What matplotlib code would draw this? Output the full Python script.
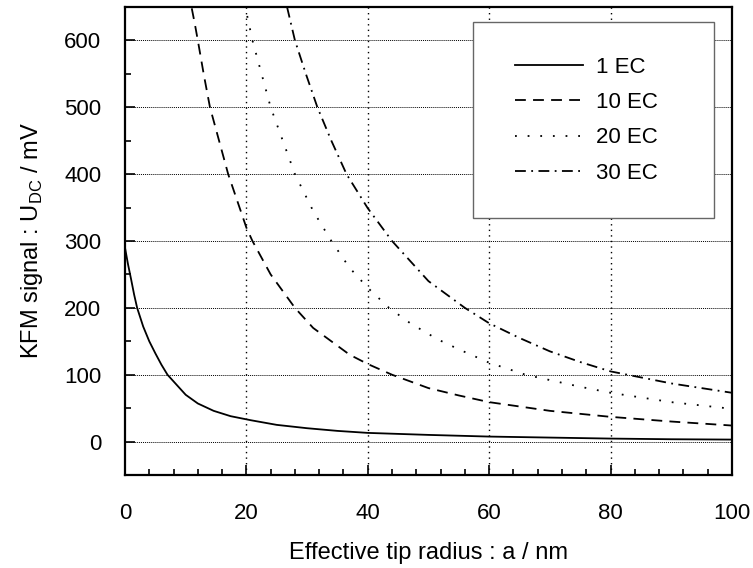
import numpy as np
import matplotlib
matplotlib.use("Agg")
import matplotlib.pyplot as plt
from matplotlib.patches import Rectangle
from matplotlib.ticker import MultipleLocator

plt.rcParams['font.family'] = ['Liberation Sans', 'DejaVu Sans']
plt.rcParams['mathtext.fontset'] = 'custom'
plt.rcParams['mathtext.rm'] = 'Liberation Sans'

# values (x = tip radius in nm, y = signal in mV)
ec1_x = [0, 0.5, 1, 1.5, 2, 3, 4, 5, 6, 7, 8, 10, 12, 14.6, 17.4, 20.7, 25, 30, 35, 40,
         50, 60, 70, 80, 90, 100]
ec1_y = [290, 265, 243, 220, 200, 172, 150, 132, 115, 100, 90, 70, 57, 46, 38, 32, 25, 20, 16, 13,
         10, 7.5, 6, 4.5, 3.5, 3]

ec10_x = [11, 11.5, 12, 13, 14, 15.5, 17, 18.5, 20, 21, 24, 28, 31, 34, 37, 40, 44, 50, 55,
          60, 70, 80, 90, 100]
ec10_y = [648, 625, 600, 548, 500, 450, 400, 360, 320, 300, 250, 200, 170, 150, 130, 116, 100, 80, 69,
          59, 46, 37, 30, 24]

ec20_x = [19.7, 21, 22.5, 24, 26, 28, 31, 34, 37, 40, 43.5, 47, 51.5, 55, 60, 66, 70, 75,
          80, 90, 100]
ec20_y = [655, 600, 550, 500, 450, 400, 345, 300, 260, 230, 200, 177, 153, 138, 118, 100, 92, 82,
          73, 59, 49]

ec30_x = [26.7, 28, 29.8, 31.7, 34, 36.5, 40, 44, 50, 56, 60, 65, 70, 75, 80, 90, 100]
ec30_y = [650, 600, 550, 500, 450, 400, 349, 300, 240, 200, 177, 155, 135, 119, 105, 87, 73]

labels = ['1 EC', '10 EC', '20 EC', '30 EC']

fig = plt.figure(figsize=(7.53, 5.68), dpi=100)
ax = fig.add_axes([0.166, 0.1637, 0.806, 0.824])

lw = 1.3
ax.plot(ec1_x, ec1_y, color='black', lw=lw, linestyle='-', label=labels[0], zorder=3)
ax.plot(ec10_x, ec10_y, color='black', lw=lw, linestyle=(0, (6, 4)), label=labels[1], zorder=3)
ax.plot(ec20_x, ec20_y, color='black', lw=lw, linestyle=(0, (1, 6)), label=labels[2], zorder=3)
ax.plot(ec30_x, ec30_y, color='black', lw=lw, linestyle=(0, (6, 3, 1, 3)), label=labels[3], zorder=3)

ax.set_xlim(0, 100)
ax.set_ylim(-50, 650)
ax.xaxis.set_major_locator(MultipleLocator(20))
ax.xaxis.set_minor_locator(MultipleLocator(4))
ax.yaxis.set_major_locator(MultipleLocator(100))
ax.yaxis.set_minor_locator(MultipleLocator(50))
ax.set_yticks(range(0, 601, 100))

ax.tick_params(which='both', direction='in', top=False, right=False, width=1.2, labelsize=16)
ax.tick_params(which='major', length=7)
ax.tick_params(which='minor', length=4)
ax.tick_params(axis='x', pad=20)
ax.tick_params(axis='y', pad=17)
for sp in ax.spines.values():
    sp.set_linewidth(1.6)

# dotted grid at major ticks
for yv in range(0, 601, 100):
    ax.axhline(yv, color='black', lw=0.7, linestyle=(0, (1, 1)), zorder=1)
for xv in range(20, 100, 20):
    ax.axvline(xv, color='black', lw=1.0, linestyle=(0, (1, 3)), zorder=1)

ax.set_xlabel('Effective tip radius : a / nm', fontsize=17, labelpad=13)
ax.set_ylabel(r'KFM signal : U$_{\mathrm{DC}}$ / mV', fontsize=17, labelpad=14)

# legend box
ax.add_patch(Rectangle((0.573, 0.549), 0.397, 0.419, transform=ax.transAxes,
                       facecolor='white', edgecolor='#666666', lw=1.0, zorder=4))
leg = ax.legend(loc='center', bbox_to_anchor=(0.761, 0.758), frameon=False,
                fontsize=16, handlelength=3.05, handletextpad=0.6, labelspacing=0.64)
leg.set_zorder(5)

fig.savefig('out.png', dpi=100)
